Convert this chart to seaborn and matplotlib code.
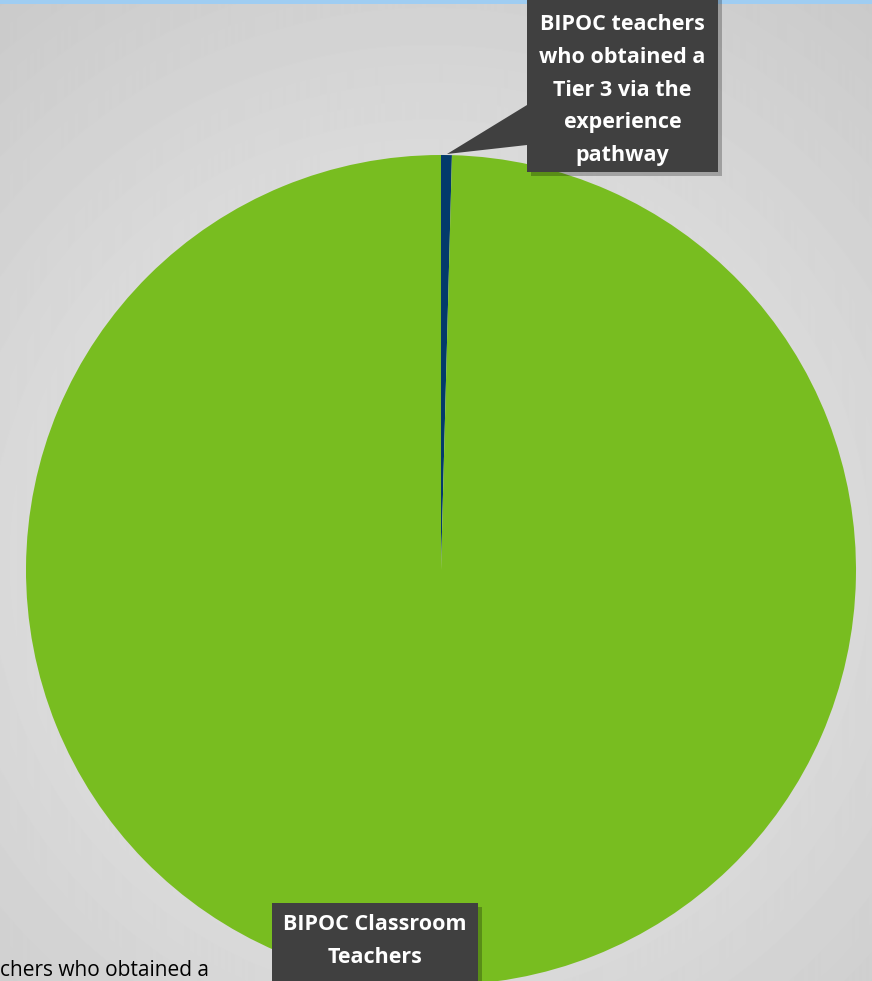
import numpy as np
import matplotlib.pyplot as plt
import seaborn as sns
from matplotlib.patches import Polygon, Rectangle

# slice shares (percent of BIPOC classroom teachers)
labels = ["BIPOC teachers\nwho obtained a\nTier 3 via the\nexperience\npathway",
          "BIPOC Classroom\nTeachers"]
values = [0.42, 99.58]
colors = ["#033a6b", "#78bd20"]
legend_fragment = "chers who obtained a"

sns.set_theme(style="white")
plt.rcParams['font.family'] = ['Open Sans', 'DejaVu Sans']

W, H = 872, 981
fig = plt.figure(figsize=(W / 100, H / 100), dpi=100)

# radial gradient background
bg = fig.add_axes([0, 0, 1, 1], zorder=0)
yy, xx = np.mgrid[0:H, 0:W]
r = np.sqrt(((xx - 430) / 620.0) ** 2 + ((yy - 560) / 620.0) ** 2)
shade = 0.94 - 0.13 * np.clip(r, 0, 1.2)
bg.imshow(shade, cmap="gray", vmin=0, vmax=1, extent=[0, W, H, 0], aspect="auto")
bg.add_patch(Rectangle((0, 0), W, 4, color="#9fcdf2", lw=0))
bg.set_xlim(0, W)
bg.set_ylim(H, 0)
bg.axis("off")

# pie
cx, cy, rad = 441, 570, 415
ax = fig.add_axes([(cx - rad) / W, (H - cy - rad) / H, 2 * rad / W, 2 * rad / H], zorder=1)
ax.pie(values, colors=colors, startangle=90, counterclock=False,
       wedgeprops=dict(linewidth=0))
ax.set_xlim(-1, 1)
ax.set_ylim(-1, 1)
ax.set_aspect("equal")
ax.axis("off")

# overlay axes in pixel coordinates for callouts
ov = fig.add_axes([0, 0, 1, 1], zorder=2)
ov.set_xlim(0, W)
ov.set_ylim(H, 0)
ov.axis("off")
ov.patch.set_alpha(0)

box_col = "#404040"


def callout(x0, y0, x1, y1, ptr, text, ty):
    # shadow
    ov.add_patch(Rectangle((x0 + 4, y0 + 4), x1 - x0, y1 - y0, color="black", alpha=0.25, lw=0))
    ov.add_patch(Polygon(ptr, closed=True, color=box_col, lw=0))
    ov.add_patch(Rectangle((x0, y0), x1 - x0, y1 - y0, color=box_col, lw=0))
    ov.text((x0 + x1) / 2, ty, text, color="white", fontsize=15.5, fontweight="bold",
            ha="center", va="center", linespacing=1.72)


callout(527, -5, 718, 172, [(527, 105), (447, 154), (527, 145)], labels[0], 90)
callout(272, 903, 478, 985, [(428, 980), (439, 990), (450, 980)], labels[1], 941)

# legend text fragment at bottom-left
fig.text(0.0, 0.0, legend_fragment, fontsize=15, color="black", ha="left", va="bottom")

fig.savefig("out.png", dpi=100)
